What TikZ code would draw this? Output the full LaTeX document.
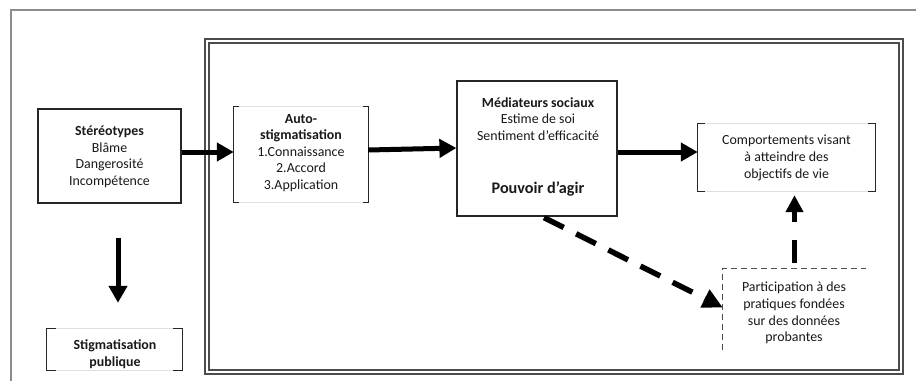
\documentclass[tikz,border=0pt]{standalone}
\usepackage{fontspec}
\setmainfont{Carlito}
\usetikzlibrary{arrows.meta,calc}
\tikzset{
  txt/.style={font=\fontsize{13.9}{16.6}\selectfont, align=center, text=black!90, inner sep=0pt},
  boxr/.style={draw=black!85, line width=1.2pt, inner sep=0pt},
  ghost/.style={inner sep=0pt},
  fat/.style={line width=5pt, black, -{Triangle[length=17pt,width=18pt]}},
  fatdash/.style={line width=5.5pt, black, dash pattern=on 22pt off 14pt, -{Triangle[length=20pt,width=19pt]}},
  fatdashv/.style={line width=5.5pt, black, dash pattern=on 23pt off 18pt, -{Triangle[length=17pt,width=17pt]}},
  brline/.style={draw=black!85, line width=1.3pt},
  faint/.style={draw=black!12, line width=0.8pt},
  thindash/.style={draw=black!70, line width=1pt, dash pattern=on 6pt off 4pt},
}
\newcommand\brk[2]{%
  \draw[faint] (#1.north west) rectangle (#1.south east);
  \draw[brline] ($(#1.north west)+(#2,0)$) -- (#1.north west) -- (#1.south west) -- ($(#1.south west)+(#2,0)$);
  \draw[brline] ($(#1.north east)+(-#2,0)$) -- (#1.north east) -- (#1.south east) -- ($(#1.south east)+(-#2,0)$);
}
\begin{document}
\begin{tikzpicture}[x=1pt,y=-1pt]
\useasboundingbox (0,0) rectangle (916,381);
\fill[white] (0,0) rectangle (916,381);

% outer gray frame (cropped)
\draw[black!45, line width=1.2pt] (11,381) -- (11,10) -- (916,10);

% double frame
\draw[black!70, line width=1.4pt] (205,39) rectangle (903,374);
\draw[black!70, line width=1.2pt] (209,43) rectangle (899,370);

% Stereotypes
\node[boxr, minimum width=143pt, minimum height=94pt] (stereo) at (109.5,156) {};
\node[txt] (stereotxt) at (109.5,157) {\textbf{Stéréotypes}\\Blâme\\Dangerosité\\Incompétence};

% Auto-stigmatisation
\node[ghost, minimum width=134pt, minimum height=95pt] (auto) at (301,154.5) {};
\brk{auto}{5}
\node[txt] (autotxt) at (301,153) {\textbf{Auto-}\\\textbf{stigmatisation}\\1.Connaissance\\2.Accord\\3.Application};

% Mediateurs sociaux
\node[boxr, minimum width=160pt, minimum height=135pt] (med) at (537,148.5) {};
\node[txt] (medtxt) at (538,119) {\textbf{Médiateurs sociaux}\\Estime de soi\\Sentiment d’efficacité};
\node[txt, font=\fontsize{16.2}{19}\selectfont\bfseries] (pouv) at (538,189) {Pouvoir d’agir};

% Comportements
\node[ghost, minimum width=177pt, minimum height=67pt] (comp) at (786.5,157.5) {};
\brk{comp}{7}
\node[txt] (comptxt) at (786.5,158) {Comportements visant\\à atteindre des\\objectifs de vie};

% Participation
\node[ghost, minimum width=143pt, minimum height=81pt] (part) at (794.5,309.5) {};
\draw[thindash] (part.south west) -- (part.north west) -- (part.north east);
\node[txt] (parttxt) at (794,313) {Participation à des\\pratiques fondées\\sur des données\\probantes};

% Stigmatisation publique
\node[ghost, minimum width=135pt, minimum height=41pt] (stig) at (114.5,349.5) {};
\brk{stig}{9}
\node[txt] (stigtxt) at (115,354) {\textbf{Stigmatisation}\\\textbf{publique}};

% connectors
\coordinate (cx) at (118,0);
\coordinate (ya) at (0,152);
\draw[fat] (stereo.east |- ya) -- (auto.west |- ya);
\draw[fat] (auto.east |- 0,150) -- (med.west |- 0,148);
\draw[fat] (med.east |- ya) -- (comp.west |- ya);
\draw[fat, shorten <=34pt, shorten >=26pt] (stereo.south -| cx) -- (stig.north -| cx);
\draw[fatdash] ($(med.south)+(7,1)$) -- ($(part.west)+(0,-2)$);
\draw[fatdashv, shorten <=6pt, shorten >=4pt] (part.north) -- (comp.south -| part.north);
\end{tikzpicture}
\end{document}
